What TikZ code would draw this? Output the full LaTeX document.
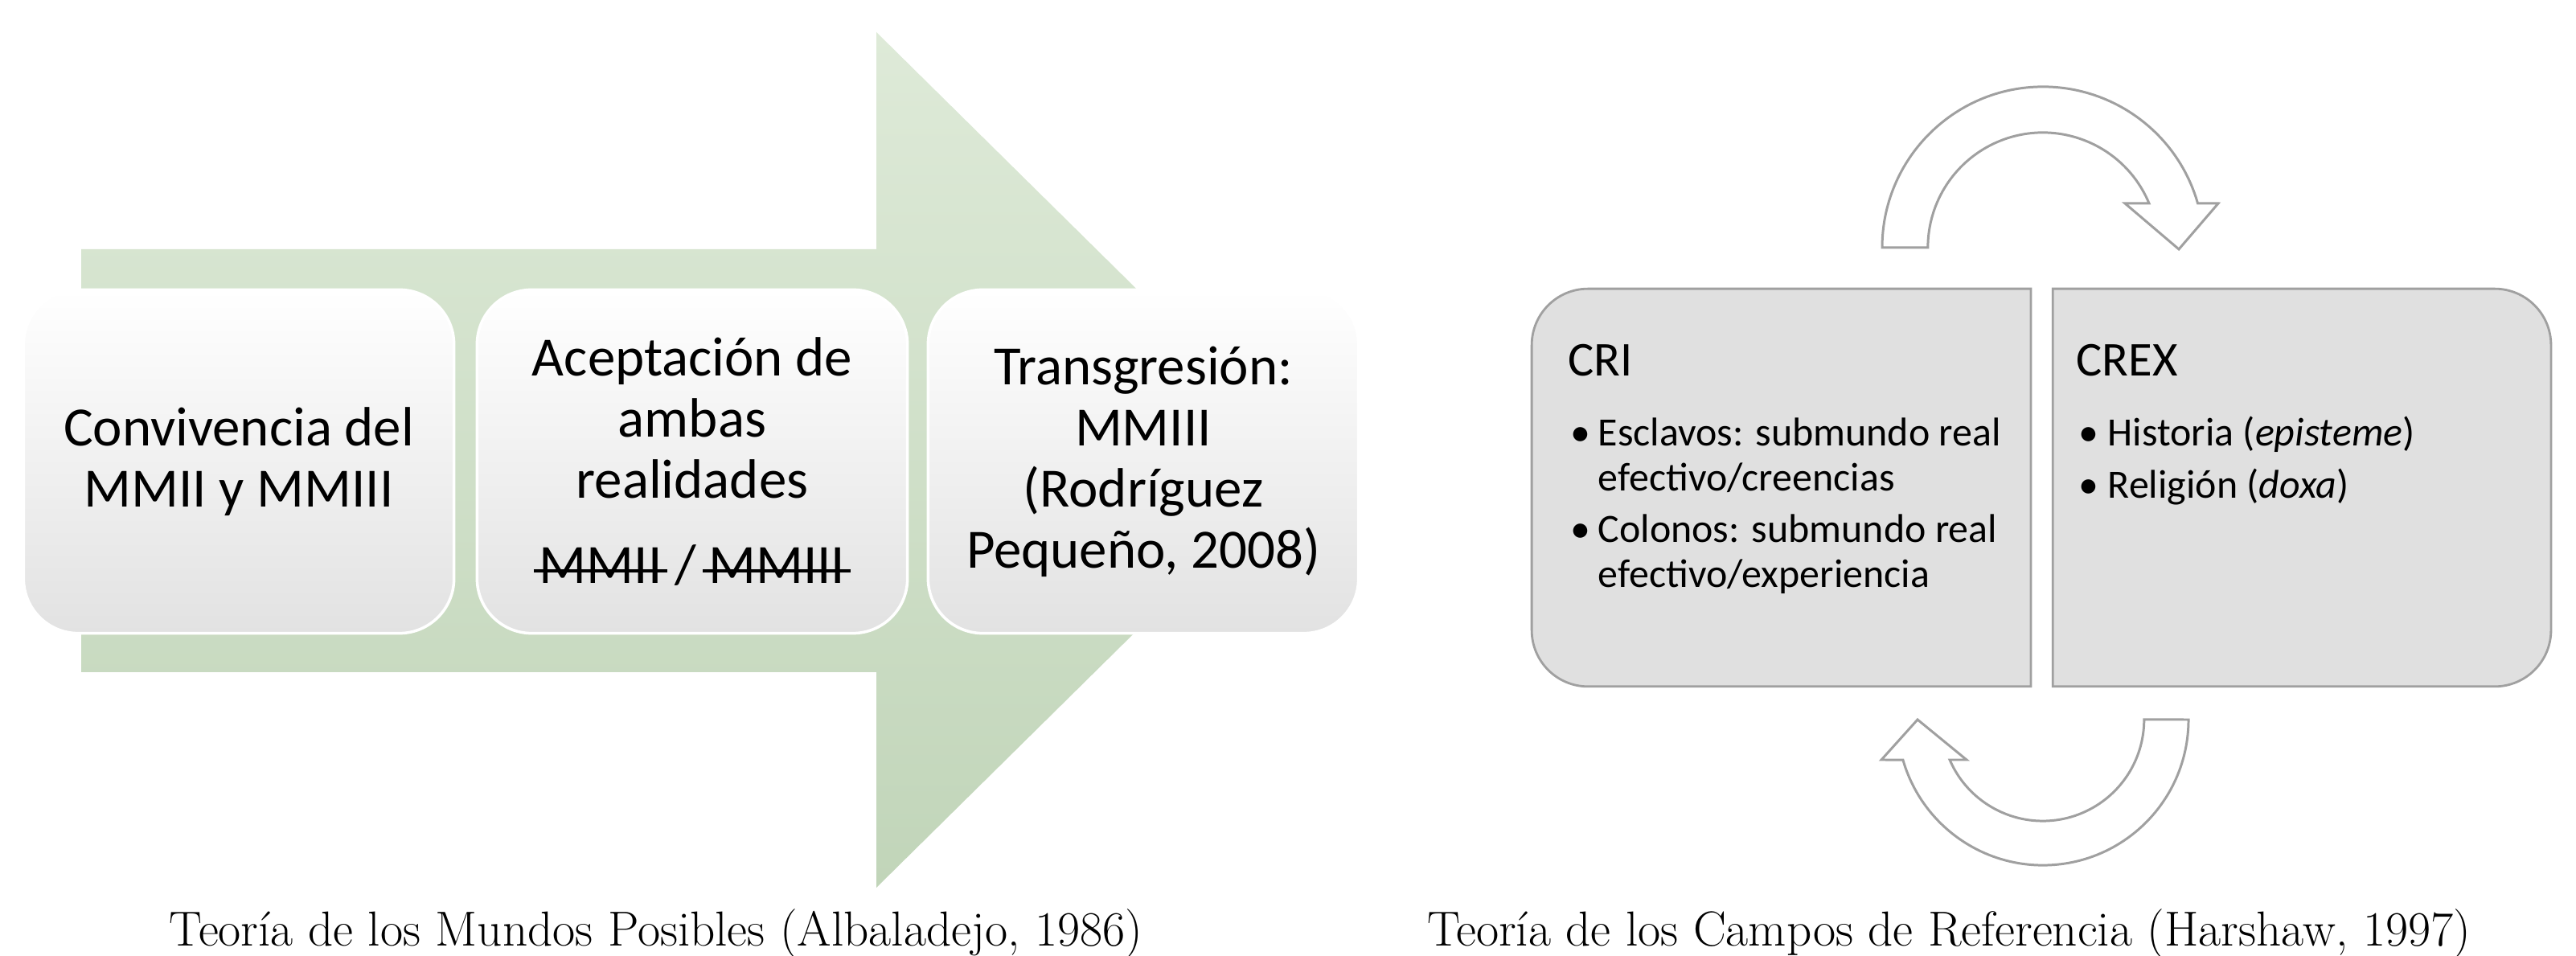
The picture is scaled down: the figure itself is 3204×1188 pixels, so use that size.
\documentclass[tikz,border=0pt]{standalone}
\usepackage{fontspec}
\newfontfamily\calibri{Carlito}
\usepackage{tikz}
\newsavebox\strikebox
\newcommand{\strikeout}[1]{\sbox\strikebox{#1}\kern-0.1em\rlap{\rule[0.2em]{\dimexpr\wd\strikebox+0.2em\relax}{1pt}}\kern0.1em\usebox\strikebox}
\definecolor{arrowtop}{RGB}{222,234,216}
\definecolor{arrowbot}{RGB}{193,213,185}
\definecolor{boxbot}{RGB}{226,226,226}
\definecolor{fieldfill}{RGB}{224,224,224}
\definecolor{fieldline}{RGB}{160,160,160}
\tikzstyle{stage}=[rectangle, rounded corners=0.68cm, minimum width=5.35cm, minimum height=4.27cm,
    top color=white, middle color=white!97!black, bottom color=boxbot, draw=white, line width=1pt,
    align=center, font=\calibri\fontsize{19.6}{21.6}\selectfont]
\tikzstyle{field}=[fill=fieldfill, draw=fieldline, line width=0.8pt]
\tikzstyle{cycarrow}=[fill=white, draw=fieldline, line width=0.85pt, line join=miter]
\tikzstyle{head}=[anchor=base west, inner sep=0, font=\calibri\fontsize{17.2}{20}\selectfont]
\tikzstyle{item}=[anchor=base west, inner sep=0, font=\calibri\fontsize{14.2}{15.65}\selectfont]
\tikzstyle{caption}=[anchor=base, inner sep=0, font=\fontsize{17.4}{20}\selectfont]

\begin{document}
\begin{tikzpicture}[x=0.01cm, y=0.01cm]
        \useasboundingbox (0,0) rectangle (3204,1188);
        % Mundos Posibles
        \shade[top color=arrowtop, bottom color=arrowbot] (101,878) -- (1090,878) -- (1090,1148) -- (1629,616)
            -- (1090,84) -- (1090,352) -- (101,352) -- cycle;
        \node[stage] (conv) at (297,614) {Convivencia del\\MMII y MMIII};
        \node[stage] (acep) at (861,614) {Aceptación de\\ambas\\realidades\\[0.3cm]\strikeout{MMII} / \strikeout{MMIII}};
        \node[stage] (trans) at (1422,614) {Transgresión:\\MMIII\\(Rodríguez\\Pequeño, 2008)};
        \node[caption] (capmp) at (816,12) {Teoría de los Mundos Posibles (Albaladejo, 1986)};
        % Campos de Referencia
        \node[minimum width=6.19cm, minimum height=4.93cm, inner sep=0] (cri) at (2215.5,581.5) {};
        \node[minimum width=6.18cm, minimum height=4.93cm, inner sep=0] (crex) at (2863,581.5) {};
        \draw[field] (cri.north east) -- ([xshift=0.7cm]cri.north west) arc (90:180:0.7cm)
            -- ([yshift=0.7cm]cri.south west) arc (180:270:0.7cm) -- (cri.south east) -- cycle;
        \draw[field] (crex.north west) -- ([xshift=-0.7cm]crex.north east) arc (90:0:0.7cm)
            -- ([yshift=0.7cm]crex.south east) arc (0:-90:0.7cm) -- (crex.south west) -- cycle;
        \node[head] (crih) at (1950,720) {CRI};
        \node[head] (crexh) at (2582,720) {CREX};
        \node[item] (esclavos) at (1953,633) {\begin{tabular}[t]{@{}p{0.34cm}@{}l@{}}\textbullet & Esclavos: submundo real\\ & efectivo/creencias\end{tabular}};
        \node[item] (colonos) at (1953,513) {\begin{tabular}[t]{@{}p{0.34cm}@{}l@{}}\textbullet & Colonos: submundo real\\ & efectivo/experiencia\end{tabular}};
        \node[item] (historia) at (2585,633) {\begin{tabular}[t]{@{}p{0.36cm}@{}l@{}}\textbullet & Historia (\textit{episteme})\end{tabular}};
        \node[item] (religion) at (2585,568) {\begin{tabular}[t]{@{}p{0.36cm}@{}l@{}}\textbullet & Religión (\textit{doxa})\end{tabular}};
        \draw[cycarrow] (2341,880) arc (180:16:2cm) -- (2759,935) -- (2710,878) -- (2643,935)
            -- (2673,935) arc (22.6:180:1.43cm) -- cycle;
        \draw[cycarrow] (2722,293) arc (0:-163.96:1.81cm) -- (2340,243) -- (2385,293) -- (2446,243)
            -- (2425,243) arc (-156.62:0:1.26cm) -- cycle;
        \node[caption] (capcr) at (2424,12) {Teoría de los Campos de Referencia (Harshaw, 1997)};
\end{tikzpicture}
\end{document}
